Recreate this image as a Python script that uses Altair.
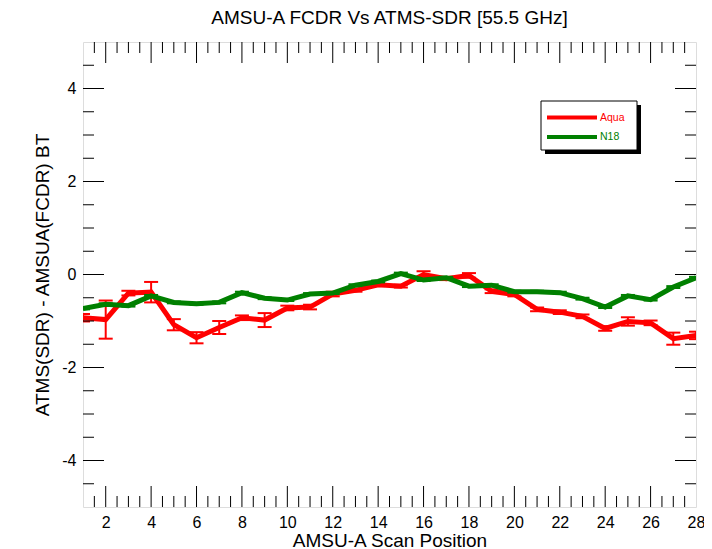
import altair as alt
import pandas as pd

# ---------------- data ----------------
positions = list(range(1, 29))
aqua = [-0.93, -0.97, -0.40, -0.38, -1.08, -1.36, -1.14, -0.93, -0.98, -0.72,
        -0.70, -0.42, -0.34, -0.22, -0.25, 0.00, -0.09, -0.02, -0.36, -0.43,
        -0.75, -0.81, -0.90, -1.16, -1.01, -1.04, -1.38, -1.31]
aqua_err = [0.08, 0.41, 0.05, 0.22, 0.12, 0.12, 0.14, 0.05, 0.15, 0.05,
            0.05, 0.05, 0.03, 0.03, 0.03, 0.07, 0.03, 0.05, 0.04, 0.04,
            0.04, 0.04, 0.04, 0.05, 0.09, 0.05, 0.13, 0.08]
n18 = [-0.73, -0.64, -0.67, -0.46, -0.60, -0.63, -0.60, -0.39, -0.51, -0.55,
       -0.42, -0.40, -0.23, -0.15, 0.02, -0.12, -0.07, -0.25, -0.23, -0.37,
       -0.37, -0.39, -0.52, -0.70, -0.46, -0.54, -0.27, -0.07]
n18_err = [0.02] * 28
series_names = ["Aqua", "N18"]
series_colors = ["#ff0000", "#008000"]

x_label_values = [2, 4, 6, 8, 10, 12, 14, 16, 18, 20, 22, 24, 26, 28]
y_label_values = [-4, -2, 0, 2, 4]
x_major_ticks = [2, 4, 6, 8, 10, 12, 14, 16, 18, 20, 22, 24, 26]
x_minor_ticks = [1.5, 2.5, 3, 3.5, 4.5, 5, 5.5, 6.5, 7, 7.5, 8.5, 9, 9.5, 10.5,
                 11, 11.5, 12.5, 13, 13.5, 14.5, 15, 15.5, 16.5, 17, 17.5, 18.5,
                 19, 19.5, 20.5, 21, 21.5, 22.5, 23, 23.5, 24.5, 25, 25.5, 26.5,
                 27, 27.5]
y_major_ticks = [-4, -2, 0, 2, 4]
y_minor_ticks = [-4.5, -3.5, -3, -2.5, -1.5, -1, -0.5, 0.5, 1, 1.5, 2.5, 3, 3.5, 4.5]

# ---------------- layout ----------------
W, H = 613, 465
FONT = "Liberation Sans"
MAJ, MIN = 21, 11

rows = []
for name, vals, errs in [(series_names[0], aqua, aqua_err), (series_names[1], n18, n18_err)]:
    for p, v, e in zip(positions, vals, errs):
        rows.append({"series": name, "pos": p, "val": v, "lo": v - e, "hi": v + e})
df = pd.DataFrame(rows)

xs = alt.Scale(domain=[1, 28], nice=False, zero=False)
ys = alt.Scale(domain=[-5, 5], nice=False, zero=False)

xaxis = alt.Axis(values=x_label_values, title="AMSU-A Scan Position", ticks=False,
                 domain=False, grid=False, labelFontSize=16, titleFontSize=19,
                 labelPadding=7, titlePadding=1, labelFont=FONT, titleFont=FONT,
                 labelColor="black", titleColor="black", titleFontWeight="normal",
                 labelFlush=False, labelExpr="'' + datum.value")
yaxis = alt.Axis(values=y_label_values, title="ATMS(SDR) - AMSUA(FCDR) BT", ticks=False,
                 domain=False, grid=False, labelFontSize=16, titleFontSize=19,
                 labelPadding=7, titlePadding=9, labelFont=FONT, titleFont=FONT,
                 labelColor="black", titleColor="black", titleFontWeight="normal",
                 labelFlush=False, labelExpr="'' + datum.value")


def X(f):
    return alt.X(f, scale=xs, axis=xaxis)


def Y(f):
    return alt.Y(f, scale=ys, axis=yaxis)


layers = []
for name, color in zip(series_names, series_colors):
    d = df[df.series == name]
    base = alt.Chart(d)
    layers.append(base.mark_rule(color=color, strokeWidth=2, clip=True).encode(
        x=X("pos:Q"), y=Y("lo:Q"), y2="hi:Q"))
    layers.append(base.mark_rule(color=color, strokeWidth=2, clip=True, xOffset=-7, x2Offset=7).encode(
        x=X("pos:Q"), x2="pos:Q", y=Y("hi:Q")))
    layers.append(base.mark_rule(color=color, strokeWidth=2, clip=True, xOffset=-7, x2Offset=7).encode(
        x=X("pos:Q"), x2="pos:Q", y=Y("lo:Q")))
    layers.append(base.mark_line(color=color, strokeWidth=5, clip=True, strokeJoin="miter").encode(
        x=X("pos:Q"), y=Y("val:Q")))

# inward ticks on all four sides
for vals, ln in [(y_major_ticks, MAJ), (y_minor_ticks, MIN)]:
    t = alt.Chart(pd.DataFrame({"v": vals}))
    layers.append(t.mark_rule(color="black", strokeWidth=1).encode(
        y=Y("v:Q"), x=alt.value(0), x2=alt.value(ln)))
    layers.append(t.mark_rule(color="black", strokeWidth=1).encode(
        y=Y("v:Q"), x=alt.value(W - ln), x2=alt.value(W)))
for vals, ln in [(x_major_ticks, MAJ), (x_minor_ticks, MIN)]:
    t = alt.Chart(pd.DataFrame({"v": vals}))
    layers.append(t.mark_rule(color="black", strokeWidth=1).encode(
        x=X("v:Q"), y=alt.value(H), y2=alt.value(H - ln)))
    layers.append(t.mark_rule(color="black", strokeWidth=1).encode(
        x=X("v:Q"), y=alt.value(0), y2=alt.value(ln)))

# legend box with shadow
one = alt.Chart(pd.DataFrame({"k": [0]}))
lx0, lx1, ly0, ly1 = 458, 554, 59, 108
layers.append(one.mark_rect(color="black").encode(
    x=alt.value(lx0 + 4), x2=alt.value(lx1 + 4), y=alt.value(ly0 + 4), y2=alt.value(ly1 + 4)))
layers.append(one.mark_rect(fill="white", stroke="black", strokeWidth=1).encode(
    x=alt.value(lx0), x2=alt.value(lx1), y=alt.value(ly0), y2=alt.value(ly1)))
for i, (name, color) in enumerate(zip(series_names, series_colors)):
    yy = 75.5 + i * 19.5
    layers.append(one.mark_rule(color=color, strokeWidth=4).encode(
        x=alt.value(464), x2=alt.value(514), y=alt.value(yy)))
    layers.append(one.mark_text(color=color, font=FONT, fontSize=10.5, align="left",
                                baseline="middle", text=name).encode(
        x=alt.value(517), y=alt.value(yy)))

chart = alt.layer(*layers).properties(
    width=W, height=H,
    title=alt.TitleParams("AMSU-A FCDR Vs ATMS-SDR [55.5 GHz]", font=FONT, fontSize=19,
                          fontWeight="normal", color="black", anchor="middle", offset=14),
    autosize=alt.AutoSizeParams(type="none"),
    padding={"left": 75, "top": 34, "right": 8, "bottom": 44},
).configure_view(stroke="black", strokeWidth=1.2).configure(background="white")

chart.save("out.html", embed_options={"renderer": "svg", "actions": False})
